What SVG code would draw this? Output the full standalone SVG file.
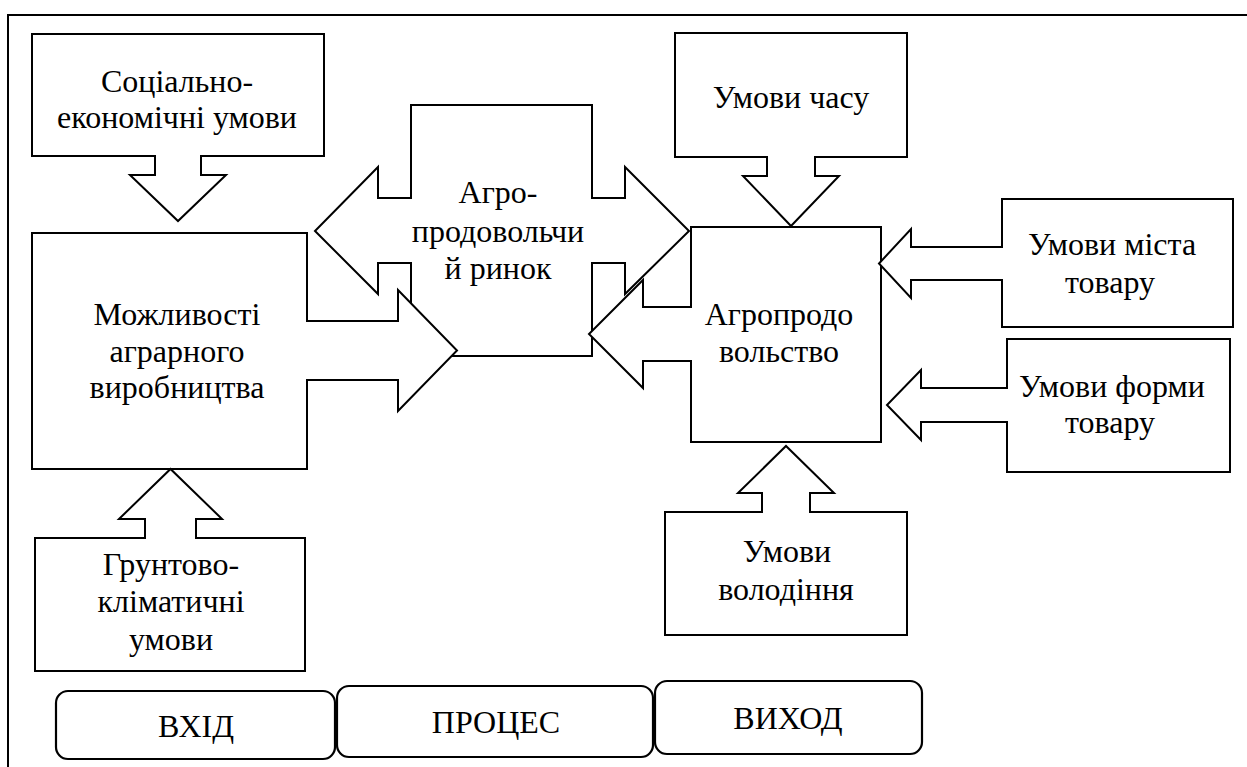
<svg xmlns="http://www.w3.org/2000/svg" width="1247" height="767" viewBox="0 0 1247 767">
  <style>
    .box { fill: #fff; stroke: #000; stroke-width: 2; }
    .blk { fill: #fff; stroke: #000; stroke-width: 2; stroke-linejoin: miter; }
    .stage { fill: #fff; stroke: #000; stroke-width: 2.2; }
    .frame { fill: none; stroke: #000; stroke-width: 2; }
    .lbl { font-family: "Liberation Serif", "Times New Roman", serif; font-size: 32px; fill: #000; text-anchor: middle; }
  </style>

  <rect x="0" y="0" width="1247" height="767" fill="#fff"/>
  <!-- page frame: left and top rule -->
  <path class="frame" d="M8,767 V15 H1247"/>

  <!-- central double-headed block arrow -->
  <g id="agro-market">
    <path class="blk" d="M411,105 H592 V198 H625 V167 L689,231 L625,294 V263 H592 V356 H411 V263 H378 V294 L315,231 L378,167 V198 H411 Z"/>
    <text class="lbl" x="498" y="203">Агро-</text>
    <text class="lbl" x="498" y="242">продовольчи</text>
    <text class="lbl" x="498" y="279">й ринок</text>
  </g>

  <g id="socio-economic">
    <rect class="box" x="32" y="34" width="292" height="122"/>
    <text class="lbl" x="177" y="92">Соціально-</text>
    <text class="lbl" x="177" y="128">економічні умови</text>
  </g>

  <g id="production">
    <rect class="box" x="32" y="233" width="275" height="236"/>
    <text class="lbl" x="177" y="325">Можливості</text>
    <text class="lbl" x="177" y="362">аграрного</text>
    <text class="lbl" x="177" y="398">виробництва</text>
  </g>

  <g id="soil-climate">
    <rect class="box" x="35" y="538" width="270" height="133"/>
    <text class="lbl" x="171" y="575">Грунтово-</text>
    <text class="lbl" x="171" y="612">кліматичні</text>
    <text class="lbl" x="171" y="650">умови</text>
  </g>

  <g id="agro-food">
    <rect class="box" x="691" y="227" width="190" height="215"/>
    <text class="lbl" x="779" y="325">Агропродо</text>
    <text class="lbl" x="779" y="362">вольство</text>
  </g>

  <g id="time">
    <rect class="box" x="675" y="33" width="232" height="124"/>
    <text class="lbl" x="791" y="108">Умови часу</text>
  </g>

  <g id="place">
    <rect class="box" x="1002" y="199" width="231" height="128"/>
    <text class="lbl" x="1112" y="255">Умови міста</text>
    <text class="lbl" x="1110" y="293">товару</text>
  </g>

  <g id="form">
    <rect class="box" x="1007" y="339" width="223" height="133"/>
    <text class="lbl" x="1112" y="397">Умови форми</text>
    <text class="lbl" x="1110" y="433">товару</text>
  </g>

  <g id="ownership">
    <rect class="box" x="665" y="512" width="242" height="123"/>
    <text class="lbl" x="787" y="562">Умови</text>
    <text class="lbl" x="786" y="600">володіння</text>
  </g>

  <!-- block arrows; open paths so the joint with each box stays unstroked -->
  <g id="connectors">
    <path class="blk" d="M155,155 V175 H130 L178,221 L226,175 H201 V155"/>
    <path class="blk" d="M306,321 H398 V290 L457,350.5 L398,411 V380 H306"/>
    <path class="blk" d="M145,539 V519 H119 L170.5,469 L222,519 H196 V539"/>
    <path class="blk" d="M692,307 H643 V280 L589,334 L643,388 V361 H692"/>
    <path class="blk" d="M767,156 V176 H743 L791,226 L839,176 H815 V156"/>
    <path class="blk" d="M1003,247 H911 V229 L879,263.5 L911,298 V280 H1003"/>
    <path class="blk" d="M1008,388 H921 V370 L887,405 L921,440 V422 H1008"/>
    <path class="blk" d="M762,513 V493 H738 L786,446 L834,493 H810 V513"/>
  </g>

  <g id="stage-input">
    <rect class="stage" x="56" y="691" width="279" height="68" rx="12"/>
    <text class="lbl" x="196" y="737">ВХІД</text>
  </g>
  <g id="stage-process">
    <rect class="stage" x="337" y="686" width="316" height="71" rx="12"/>
    <text class="lbl" x="496" y="733">ПРОЦЕС</text>
  </g>
  <g id="stage-output">
    <rect class="stage" x="655" y="681" width="267" height="73" rx="12"/>
    <text class="lbl" x="788" y="729">ВИХОД</text>
  </g>
</svg>
